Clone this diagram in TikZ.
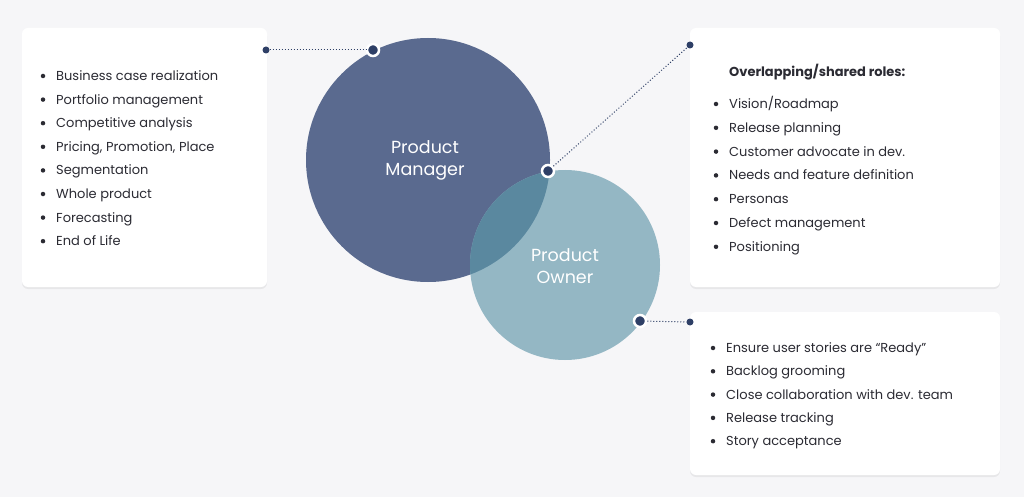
\documentclass[tikz,border=0pt]{standalone}
\usepackage{fontspec}
\setmainfont{Poppins}
\usetikzlibrary{shadows}
\definecolor{bg}{HTML}{F6F6F8}
\definecolor{pm}{HTML}{5A6A8F}
\definecolor{po}{HTML}{8FB4C2}
\definecolor{ov}{HTML}{5A889F}
\definecolor{dotc}{HTML}{2E3F66}
\definecolor{txt}{HTML}{2B2B33}
\begin{document}
\begin{tikzpicture}[x=1pt,y=-1pt,
  box/.style={fill=white,rounded corners=6pt,drop shadow={opacity=0.12,shadow xshift=0pt,shadow yshift=-2pt}},
  item/.style={anchor=base west,font=\fontsize{13}{15}\selectfont,text=txt,inner sep=0pt,yshift=-4.5pt},
  bul/.style={circle,fill=txt,inner sep=0pt,minimum size=4.5pt},
  sdot/.style={circle,fill=dotc,inner sep=0pt,minimum size=7pt},
  rdot/.style={circle,fill=dotc,draw=white,line width=2.5pt,inner sep=0pt,minimum size=12pt},
  link/.style={dotted,dotc,line width=1pt},
  ctext/.style={text=white,font=\fontsize{17.5}{22}\selectfont,align=center}]
\fill[bg] (0,0) rectangle (1024,497);
\useasboundingbox (0,0) rectangle (1024,497);
\fill[box] (22,28) rectangle (267,287);
\fill[box] (690,28) rectangle (1000,287);
\fill[box] (690,312) rectangle (1000,475);
\fill[pm] (428,160) circle (122);
\fill[po,opacity=0.95] (565,265) circle (95);
\begin{scope}
\clip (428,160) circle (122);
\fill[ov] (565,265) circle (95);
\end{scope}
\node[ctext] (pmt) at (425,160) {Product\\Manager};
\node[ctext] (pot) at (565,266) {Product\\Owner};
\foreach \t [count=\i] in {Business case realization,Portfolio management,Competitive analysis,{Pricing, Promotion, Place},Segmentation,Whole product,Forecasting,End of Life}{
  \node[bul] at (43,{76+(\i-1)*23.6}) {};
  \node[item] at (56,{76+(\i-1)*23.6}) {\t};
}
\node[item,font=\fontsize{13}{15}\selectfont\bfseries] (title) at (729,72) {Overlapping/shared roles:};
\foreach \t [count=\i] in {Vision/Roadmap,Release planning,Customer advocate in dev.,Needs and feature definition,Personas,Defect management,Positioning}{
  \node[bul] at (716,{104+(\i-1)*23.8}) {};
  \node[item] at (729,{104+(\i-1)*23.8}) {\t};
}
\foreach \t [count=\i] in {Ensure user stories are “Ready”,Backlog grooming,Close collaboration with dev. team,Release tracking,Story acceptance}{
  \node[bul] at (713,{348+(\i-1)*23.3}) {};
  \node[item] at (726,{348+(\i-1)*23.3}) {\t};
}
\node[sdot] (d1) at (266,50) {};
\node[rdot] (r1) at (373,50) {};
\node[sdot] (d2) at (690,45) {};
\node[rdot] (r2) at (548,171) {};
\node[sdot] (d3) at (690,322) {};
\node[rdot] (r3) at (640,321) {};
\draw[link] (d1) -- (r1);
\draw[link] (r2) -- (d2);
\draw[link] (r3) -- (d3);
\end{tikzpicture}
\end{document}
